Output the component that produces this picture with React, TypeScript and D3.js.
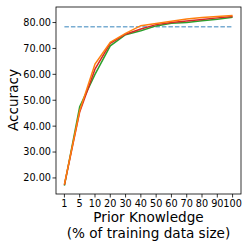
import React from "react";
import * as d3 from "d3";

const categories = ["1", "5", "10", "20", "30", "40", "50", "60", "70", "80", "90", "100"];
const redSeries = [17.3, 45.5, 62.0, 72.0, 75.5, 77.5, 79.2, 80.0, 80.6, 81.2, 81.8, 82.3];
const orangeSeries = [17.5, 46.0, 64.0, 72.4, 75.8, 78.8, 79.6, 80.5, 81.4, 81.9, 82.3, 82.7];
const greenSeries = [17.0, 47.5, 60.0, 71.0, 75.3, 76.8, 78.7, 79.7, 80.0, 80.7, 81.3, 82.0];
const baseline = 78.4;
const yTicks = [20, 30, 40, 50, 60, 70, 80];

export default function App() {
  const W = 249, H = 249;
  const left = 56, right = 241, top = 7, bottom = 194;
  const x = d3.scaleLinear().domain([-0.55, categories.length - 1 + 0.55]).range([left, right]);
  const y = d3.scaleLinear().domain([13.8, 86.0]).range([bottom, top]);
  const line = d3.line<number>().x((_, i) => x(i)).y((d) => y(d));
  const font = "DejaVu Sans, sans-serif";
  const series = [
    { data: greenSeries, color: "#2ca02c" },
    { data: redSeries, color: "#d62728" },
    { data: orangeSeries, color: "#ff7f0e" },
  ];
  return (
    <svg width={W} height={H} style={{ position: "absolute", left: 0, top: 0 }}>
      <rect width={W} height={H} fill="white" />
      <line x1={x(0)} x2={x(categories.length - 1)} y1={y(baseline)} y2={y(baseline)}
        stroke="#1f77b4" strokeOpacity={0.6} strokeWidth={1.5} strokeDasharray="4.5,2" />
      {series.map((s, i) => (
        <path key={i} d={line(s.data) || ""} fill="none" stroke={s.color} strokeWidth={1.5} />
      ))}
      <rect x={left} y={top} width={right - left} height={bottom - top} fill="none" stroke="#000" strokeWidth={0.8} />
      {yTicks.map((t) => (
        <g key={t}>
          <line x1={left - 3.5} x2={left} y1={y(t)} y2={y(t)} stroke="#000" strokeWidth={0.8} />
          <text x={left - 5} y={y(t)} dy="0.35em" textAnchor="end" fontFamily={font} fontSize={9.7}>
            {t.toFixed(2)}
          </text>
        </g>
      ))}
      {categories.map((c, i) => (
        <g key={c}>
          <line x1={x(i)} x2={x(i)} y1={bottom} y2={bottom + 3.5} stroke="#000" strokeWidth={0.8} />
          <text x={x(i)} y={bottom + 5.5} dy="0.75em" textAnchor="middle" fontFamily={font} fontSize={9.7}>
            {c}
          </text>
        </g>
      ))}
      <text x={148.5} y={217} dy="0.35em" textAnchor="middle" fontFamily={font} fontSize={13.6}>Prior Knowledge</text>
      <text x={148.5} y={233} dy="0.35em" textAnchor="middle" fontFamily={font} fontSize={13.6}>(% of training data size)</text>
      <text transform={`translate(13,100) rotate(-90)`} dy="0.35em" textAnchor="middle" fontFamily={font} fontSize={13.6}>Accuracy</text>
    </svg>
  );
}
